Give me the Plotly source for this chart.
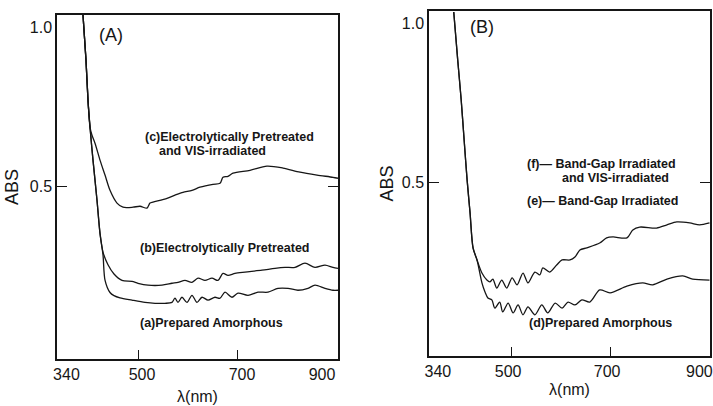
import plotly.graph_objects as go

# ---------------- Panel A ----------------
wl_a = [390, 396, 400, 404, 410, 418, 424, 430, 434, 444, 452, 464, 488, 514, 534,
        554, 568, 574, 580, 588, 598, 608, 618, 628, 640, 654, 664, 674, 688, 700,
        720, 740, 760, 780, 800, 820, 840, 854, 874, 890, 900]
abs_a = [1.038, 0.896, 0.770, 0.686, 0.582, 0.456, 0.352, 0.284, 0.205, 0.166, 0.156, 0.149, 0.142, 0.135, 0.132,
         0.132, 0.135, 0.148, 0.135, 0.151, 0.135, 0.157, 0.135, 0.151, 0.142, 0.151, 0.148, 0.167, 0.151, 0.164,
         0.157, 0.167, 0.167, 0.179, 0.179, 0.173, 0.179, 0.189, 0.179, 0.173, 0.173]

wl_b = [390, 396, 400, 404, 410, 418, 424, 430, 440, 452, 468, 488, 500, 520, 548,
        568, 580, 594, 608, 620, 634, 648, 660, 670, 680, 694, 714, 748, 774, 794,
        814, 834, 854, 874, 890, 900]
abs_b = [1.038, 0.896, 0.770, 0.686, 0.582, 0.456, 0.352, 0.293, 0.253, 0.224, 0.204, 0.201, 0.195, 0.189, 0.189,
         0.195, 0.198, 0.204, 0.198, 0.211, 0.204, 0.211, 0.204, 0.226, 0.220, 0.226, 0.230, 0.236, 0.242, 0.245,
         0.245, 0.258, 0.245, 0.252, 0.245, 0.242]

wl_c = [390, 396, 400, 404, 408, 414, 424, 434, 444, 458, 470, 490, 504, 518, 524,
        530, 558, 574, 590, 608, 624, 650, 664, 670, 680, 690, 724, 758, 790, 824,
        858, 890, 900]
abs_c = [1.038, 0.896, 0.770, 0.686, 0.660, 0.635, 0.582, 0.535, 0.487, 0.447, 0.434, 0.434, 0.437, 0.431, 0.447,
         0.450, 0.462, 0.472, 0.481, 0.487, 0.497, 0.506, 0.509, 0.528, 0.531, 0.541, 0.550, 0.563, 0.557, 0.544,
         0.535, 0.528, 0.525]

# ---------------- Panel B ----------------
wl_d = [384, 392, 399, 405, 411, 417, 423, 431,
        441, 447, 453, 461, 467, 477, 483, 494, 504, 514, 524, 534, 548, 562, 574, 589,
        603, 615, 629, 643, 659, 679, 700, 734, 766, 786, 815, 847, 867, 901]
abs_d = [1.035, 0.885, 0.760, 0.634, 0.509, 0.405, 0.296, 0.258,
         0.186, 0.158, 0.139, 0.133, 0.107, 0.126, 0.095, 0.123, 0.092, 0.117, 0.086, 0.111, 0.086, 0.117, 0.092, 0.123,
         0.107, 0.126, 0.117, 0.133, 0.126, 0.164, 0.155, 0.176, 0.186, 0.180, 0.198, 0.208, 0.198, 0.195]

wl_f = [384, 392, 399, 405, 411, 417, 423, 431,
        441, 451, 457, 463, 471, 481, 491, 502, 512, 524, 534, 548, 558, 564, 578, 592,
        603, 619, 629, 639, 653, 679, 693, 706, 734, 746, 760, 794, 815, 835, 861, 881, 901]
abs_f = [1.035, 0.885, 0.760, 0.634, 0.509, 0.405, 0.296, 0.258,
         0.217, 0.195, 0.189, 0.198, 0.170, 0.195, 0.170, 0.202, 0.180, 0.217, 0.186, 0.220, 0.211, 0.233, 0.220, 0.242,
         0.258, 0.258, 0.267, 0.289, 0.296, 0.311, 0.327, 0.330, 0.327, 0.352, 0.361, 0.358, 0.368, 0.377, 0.374, 0.368, 0.374]

x_ticks = [340, 500, 700, 900]
x_tick_text = ["340", "500", "700", "900"]
y_ticks = [0.5, 1.0]
y_tick_text = ["0.5", "1.0"]

INK = "#161616"
FONT = "Liberation Sans"
NB = "\u00a0"

fig = go.Figure()

def add_line(x, y, xa, ya):
    fig.add_trace(go.Scatter(x=x, y=y, mode="lines", xaxis=xa, yaxis=ya,
                             line=dict(color=INK, width=1.3, shape="spline", smoothing=0.8),
                             showlegend=False, hoverinfo="skip"))

add_line(wl_a, abs_a, "x", "y")
add_line(wl_b, abs_b, "x", "y")
add_line(wl_c, abs_c, "x", "y")
add_line(wl_d, abs_d, "x2", "y2")
add_line(wl_f, abs_f, "x2", "y2")

def xaxis(domain, rng, texts, shift, anchor, standoff):
    return dict(domain=domain, range=rng, anchor=anchor, automargin=False,
                showline=True, linecolor=INK, linewidth=1.5, mirror=True,
                showgrid=False, zeroline=False,
                tickmode="array", tickvals=x_ticks, ticktext=texts, ticks="", ticklen=0,
                ticklabelshift=shift, ticklabeloverflow="allow",
                tickfont=dict(family=FONT, size=16, color=INK),
                minor=dict(tickmode="array", tickvals=[500, 700], ticks="inside",
                           ticklen=9, tickwidth=1.3, tickcolor=INK),
                title=dict(text="λ(nm)", font=dict(family=FONT, size=16, color=INK),
                           standoff=standoff))

def yaxis(domain, anchor, standoff):
    return dict(domain=domain, range=[-0.043, 1.038], anchor=anchor, automargin=False,
                showline=True, linecolor=INK, linewidth=1.5, mirror="ticks",
                showgrid=False, zeroline=False,
                tickmode="array", tickvals=y_ticks, ticktext=y_tick_text, ticks="", ticklen=3,
                tickfont=dict(family=FONT, size=16, color=INK),
                minor=dict(tickmode="array", tickvals=[0.5], ticks="inside",
                           ticklen=10, tickwidth=1.3, tickcolor=INK),
                title=dict(text="ABS", font=dict(family=FONT, size=18, color=INK),
                           standoff=standoff))

texts_a = [NB * 2 + "340", "500", "700", "900" + NB * 9]
texts_b = [NB * 4 + "340", "500", "700", "900" + NB * 3]

fig.update_layout(
    width=713, height=406,
    margin=dict(l=57, r=3, t=11, b=47),
    paper_bgcolor="white", plot_bgcolor="white",
    xaxis=xaxis([0, 0.4303], [338, 900], texts_a, 4, "y", 9),
    yaxis=yaxis([0, 0.9885], "x", 6),
    xaxis2=xaxis([0.5697, 1], [334, 902], texts_b, -3, "y2", 5),
    yaxis2=yaxis([0.0086, 1], "x2", 4),
)

ann_font = dict(family=FONT, size=12.5, color=INK, weight="bold")
annotations = [
    dict(x=446, y=0.976, xref="x", yref="y", text="(A)", showarrow=False,
         font=dict(family=FONT, size=18, color=INK), xanchor="center", yanchor="middle"),
    dict(x=510, y=0.655, xref="x", yref="y", text="(c)Electrolytically Pretreated", showarrow=False,
         font=ann_font, xanchor="left", yanchor="middle"),
    dict(x=538, y=0.611, xref="x", yref="y", text="and VIS-irradiated", showarrow=False,
         font=ann_font, xanchor="left", yanchor="middle"),
    dict(x=500, y=0.306, xref="x", yref="y", text="(b)Electrolytically Pretreated", showarrow=False,
         font=ann_font, xanchor="left", yanchor="middle"),
    dict(x=500, y=0.070, xref="x", yref="y", text="(a)Prepared Amorphous", showarrow=False,
         font=ann_font, xanchor="left", yanchor="middle"),
    dict(x=441, y=0.988, xref="x2", yref="y2", text="(B)", showarrow=False,
         font=dict(family=FONT, size=18, color=INK), xanchor="center", yanchor="middle"),
    dict(x=528, y=0.559, xref="x2", yref="y2", text="(f)— Band-Gap Irradiated", showarrow=False,
         font=ann_font, xanchor="left", yanchor="middle"),
    dict(x=599, y=0.515, xref="x2", yref="y2", text="and VIS-irradiated", showarrow=False,
         font=ann_font, xanchor="left", yanchor="middle"),
    dict(x=528, y=0.443, xref="x2", yref="y2", text="(e)— Band-Gap Irradiated", showarrow=False,
         font=ann_font, xanchor="left", yanchor="middle"),
    dict(x=532, y=0.061, xref="x2", yref="y2", text="(d)Prepared Amorphous", showarrow=False,
         font=ann_font, xanchor="left", yanchor="middle"),
]
fig.update_layout(annotations=annotations)

fig.write_html("out.html", config={"displayModeBar": False},
               post_script="document.body.style.margin='0';document.body.style.overflow='hidden';")
